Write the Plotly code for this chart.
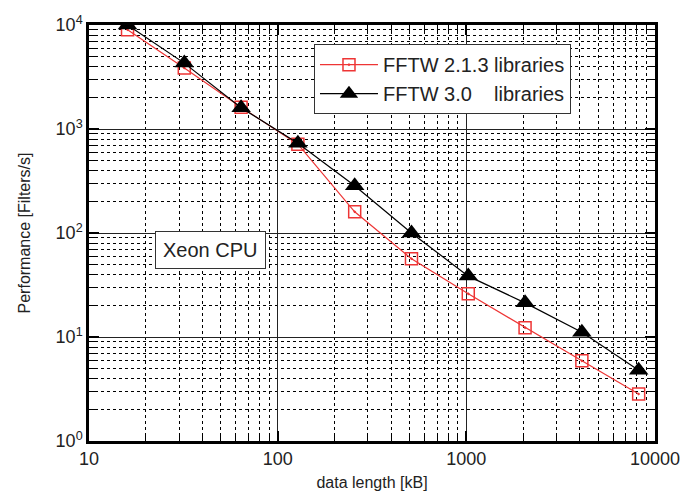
import plotly.graph_objects as go

data_kb = [16, 32, 64, 128, 256, 512, 1024, 2048, 4096, 8192]
fftw213 = [9000, 3860, 1620, 715, 160, 56.5, 26, 12.3, 5.9, 2.83]
fftw30 = [10000, 4300, 1600, 730, 285, 100, 38.5, 21.3, 11.1, 4.8]

x_major = [10, 100, 1000, 10000]
x_major_text = ["10", "100", "1000", "10000"]
y_major = [1, 10, 100, 1000, 10000]
y_major_text = ["10<sup>0</sup>", "10<sup>1</sup>", "10<sup>2</sup>", "10<sup>3</sup>", "10<sup>4</sup>"]
mult = [2, 3, 4, 5, 6, 7, 8, 9]
x_minor = [m * d for d in [10, 100, 1000] for m in mult]
y_minor = [m * d for d in [1, 10, 100, 1000] for m in mult]

RED = "#ee3535"
FONT = "Liberation Sans, Arial, sans-serif"

fig = go.Figure()
fig.add_trace(go.Scatter(
    x=data_kb, y=fftw213, mode="lines+markers",
    name="FFTW 2.1.3 libraries",
    line=dict(color=RED, width=1.2),
    marker=dict(symbol="square-open-dot", size=12, color=RED, line=dict(width=1.5, color=RED)),
    cliponaxis=True,
))
fig.add_trace(go.Scatter(
    x=data_kb, y=fftw30, mode="lines+markers",
    name="FFTW 3.0\u00a0\u00a0\u00a0\u00a0libraries",
    line=dict(color="black", width=1.2),
    marker=dict(symbol="triangle-up", size=17, color="black"),
    cliponaxis=True,
))

axis_common = dict(
    type="log", automargin=False,
    ticks="inside", ticklen=10, tickwidth=1.5, tickcolor="black",
    showgrid=True, gridcolor="#222222", gridwidth=1,
    showline=True, linecolor="black", linewidth=2.5, mirror="allticks",
    zeroline=False,
    tickfont=dict(family=FONT, size=18, color="#222222"),
    title_font=dict(family=FONT, size=16, color="#222222"),
)

fig.update_xaxes(
    **axis_common,
    range=[1, 4],
    tickmode="array", tickvals=x_major, ticktext=x_major_text,
    minor=dict(tickmode="array", tickvals=x_minor, ticks="inside", ticklen=6,
               tickwidth=1.2, tickcolor="black",
               showgrid=True, griddash="dot", gridcolor="black", gridwidth=1),
    title_text="data length [kB]", title_standoff=9,
)
fig.update_yaxes(
    **axis_common,
    range=[0, 4],
    tickmode="array", tickvals=y_major, ticktext=y_major_text,
    minor=dict(tickmode="array", tickvals=y_minor, ticks="inside", ticklen=6,
               tickwidth=1.2, tickcolor="black",
               showgrid=True, griddash="dot", gridcolor="black", gridwidth=1),
    title_text="Performance [Filters/s]", title_standoff=22,
)

fig.add_annotation(
    x=0.2155, y=0.46, xref="paper", yref="paper",
    xanchor="center", yanchor="middle",
    text="Xeon CPU", showarrow=False,
    font=dict(family=FONT, size=20, color="#222222"),
    bgcolor="white", bordercolor="#333333", borderwidth=1,
    borderpad=7,
)

fig.update_layout(
    width=681, height=494,
    margin=dict(l=89, r=26, t=25, b=53, autoexpand=False),
    paper_bgcolor="white", plot_bgcolor="white",
    showlegend=True,
    legend=dict(
        x=0.3975, y=0.954, xanchor="left", yanchor="top",
        bgcolor="white", bordercolor="#333333", borderwidth=1,
        font=dict(family=FONT, size=20, color="#222222"),
        itemwidth=58, tracegroupgap=0,
    ),
)

fig.write_html("out.html")
